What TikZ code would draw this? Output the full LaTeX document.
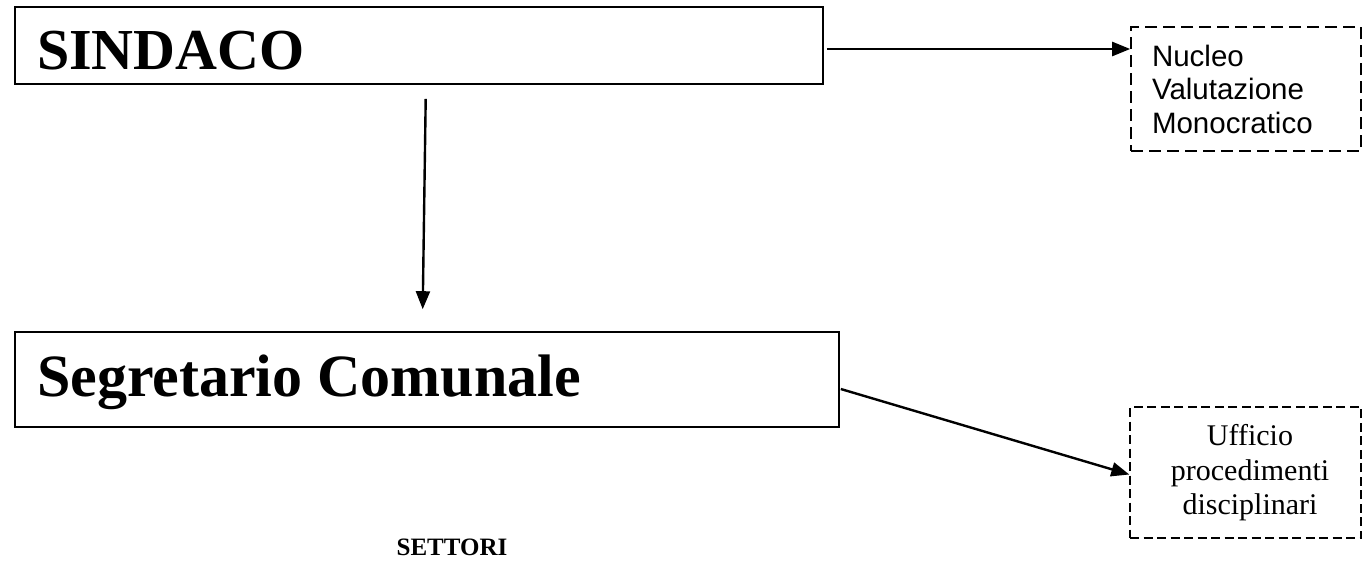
\documentclass[tikz,border=0pt]{standalone}
\usepackage{fontspec}
\setmainfont{Liberation Serif}
\newfontfamily\arialf{Liberation Sans}
\usetikzlibrary{arrows.meta,calc}
\tikzset{
  solidbox/.style={draw=black, line width=1.6pt, inner sep=0pt},
  dashbox/.style={draw=black, line width=1.6pt, inner sep=0pt, dash pattern=on 12pt off 6pt},
  dashboxb/.style={draw=black, line width=1.4pt, inner sep=0pt, dash pattern=on 9pt off 4.5pt},
  lbl/.style={inner sep=0pt, outer sep=0pt},
  arr/.style={line width=2.4pt, -{Triangle[length=18pt,width=14pt]}},
}
\begin{document}
\begin{tikzpicture}[x=1pt,y=-1pt]
\useasboundingbox (0,0) rectangle (1362,568);
% boxes
\node[solidbox, minimum width=808pt, minimum height=77pt] (sind) at (419,45.5) {};
\node[lbl, anchor=base west, font=\fontsize{58}{62}\selectfont\bfseries] (sindt) at (37,69) {SINDACO};
\node[dashbox, minimum width=230pt, minimum height=124pt] (nuc) at (1246,89) {};
\node[lbl, anchor=north west, align=left, font=\arialf\fontsize{29.5}{33.5}\selectfont] (nuct) at (1152,44.9) {Nucleo\\Valutazione\\Monocratico};
\node[solidbox, minimum width=824pt, minimum height=95pt] (seg) at (427,379.5) {};
\node[lbl, anchor=base west, font=\fontsize{60}{66}\selectfont\bfseries] (segt) at (37,396) {Segretario Comunale};
\node[dashboxb, minimum width=231pt, minimum height=131pt] (uff) at (1245.5,472.5) {};
\node[lbl, anchor=north, align=center, font=\fontsize{30}{34.5}\selectfont] (ufft) at (1250,424.5) {Ufficio\\procedimenti\\disciplinari};
\node[lbl, anchor=base, font=\fontsize{25}{30}\selectfont\bfseries] (sett) at (452,555) {SETTORI};
% connectors
\draw[arr] ($(sind.east)+(3,3.5)$) coordinate (a1) -- (a1 -| nuc.west);
\draw[arr] ($(sind.south)+(6.7,14)$) -- ($(seg.north)+(-4.3,-22)$);
\draw[arr] ($(seg.east)+(1,9.5)$) -- ($(uff.west)+(0,2)$);
\end{tikzpicture}
\end{document}
